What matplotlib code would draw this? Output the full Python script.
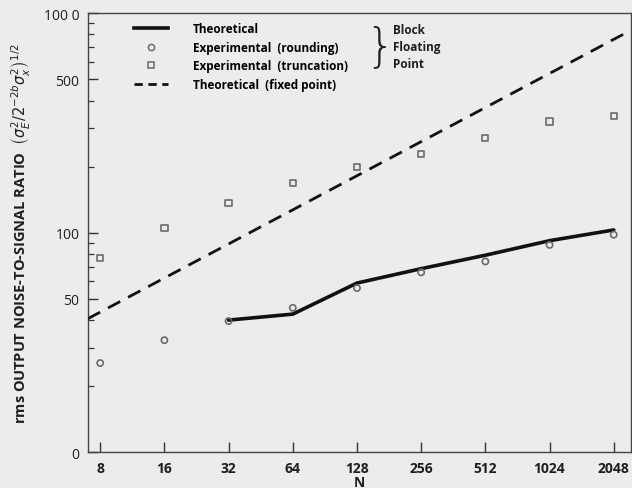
import matplotlib
matplotlib.use("Agg")
import matplotlib.pyplot as plt
from matplotlib.lines import Line2D
from matplotlib.ticker import FixedLocator, FixedFormatter, LogLocator, NullFormatter

# ---- data ----
N = [8, 16, 32, 64, 128, 256, 512, 1024, 2048]
exp_trunc = [77, 105, 137, 168, 200, 229, 269, 321, 339]
exp_round = [25.5, 32.4, 39.6, 45.5, 56, 66, 74, 88, 98]
theo_N = [32, 64, 128, 256, 512, 1024, 2048]
theo_block = [40, 42.6, 59, 68.6, 79, 92, 103]
fixed_N = [8, 2048]
fixed_pt = [43.5, 760]

x_ticks = N
x_labels = ["8", "16", "32", "64", "128", "256", "512", "1024", "2048"]
y_ticks = [10, 50, 100, 500, 1000]
y_labels = ["0", "50", "100", "500", "100 0"]

FONT = "Open Sans"
BG = "#ececec"
INK = "#111111"
GRAY = "#6a6a6a"
TXT = "#1e1e1e"

fig = plt.figure(figsize=(6.32, 4.89), dpi=100, facecolor=BG)
ax = fig.add_axes([0.139, 0.073, 0.859, 0.898])
ax.set_facecolor(BG)
ax.set_xscale("log", base=2)
ax.set_yscale("log")
ax.set_xlim(7.0, 2460)
ax.set_ylim(10, 1000)

# series
ax.plot(theo_N, theo_block, color=INK, lw=2.6, solid_capstyle="round", zorder=3)
ax.scatter(N, exp_round, s=20, marker="o", facecolors="none", edgecolors=GRAY, linewidths=1.2, zorder=4)
ax.scatter(N, exp_trunc, s=20, marker="s", facecolors="none", edgecolors=GRAY, linewidths=1.2, zorder=4)
ax.axline((fixed_N[0], fixed_pt[0]), (fixed_N[1], fixed_pt[1]), color=INK, lw=2.0,
          dashes=(5, 3.2), zorder=3)

# ticks
ax.xaxis.set_major_locator(FixedLocator(x_ticks))
ax.xaxis.set_major_formatter(FixedFormatter(x_labels))
ax.xaxis.set_minor_locator(FixedLocator([]))
ax.yaxis.set_major_locator(FixedLocator(y_ticks))
ax.yaxis.set_major_formatter(FixedFormatter(y_labels))
ax.yaxis.set_minor_locator(LogLocator(base=10, subs=[2, 3, 4, 6, 7, 8, 9]))
ax.yaxis.set_minor_formatter(NullFormatter())
ax.tick_params(axis="both", which="major", direction="in", length=7, width=1.0, color="#333333",
               labelsize=10, pad=6)
ax.tick_params(axis="y", which="minor", direction="in", length=4, width=0.9, color="#333333")
for lab in ax.get_xticklabels() + ax.get_yticklabels():
    lab.set_fontfamily(FONT)
    lab.set_fontweight("bold")
    lab.set_color(TXT)
for lab in ax.get_yticklabels():
    lab.set_fontweight("normal")
for sp in ax.spines.values():
    sp.set_color("#444444")
    sp.set_linewidth(1.0)

ax.set_xlabel("N", fontfamily=FONT, fontweight="bold", fontsize=10, labelpad=0, color=TXT)
ax.set_ylabel(r"rms OUTPUT NOISE-TO-SIGNAL RATIO  $\left(\sigma_E^2/2^{-2b}\sigma_x^2\right)^{1/2}$",
              fontfamily=FONT, fontweight="bold", fontsize=10.5, labelpad=8, color=TXT)

# legend
handles = [
    Line2D([], [], color=INK, lw=2.6),
    Line2D([], [], ls="none", marker="o", mfc="none", mec=GRAY, ms=4.5, mew=1.1),
    Line2D([], [], ls="none", marker="s", mfc="none", mec=GRAY, ms=4.5, mew=1.1),
    Line2D([], [], color=INK, lw=2.0, dashes=(3, 2)),
]
labels = ["Theoretical", "Experimental  (rounding)", "Experimental  (truncation)",
          "Theoretical  (fixed point)"]
leg = fig.legend(handles, labels, loc="upper left", bbox_to_anchor=(134 / 632, 1 - 23 / 489),
                 frameon=False, handlelength=2.9, handletextpad=2.1, labelspacing=0.48,
                 prop={"family": FONT, "weight": "bold", "size": 8.5}, borderaxespad=0,
                 borderpad=0)

fig.text(380 / 632, 1 - 47 / 489, "}", fontfamily="DejaVu Sans", fontweight="light", fontsize=33,
         ha="center", va="center", color=TXT, transform=fig.transFigure)
for i, t in enumerate(["Block", "Floating", "Point"]):
    fig.text(393 / 632, 1 - (31 + 17 * i) / 489, t, fontfamily=FONT, fontweight="bold",
             fontsize=8.5, ha="left", va="center", color=TXT)

fig.savefig("out.png", dpi=100, facecolor=BG)
